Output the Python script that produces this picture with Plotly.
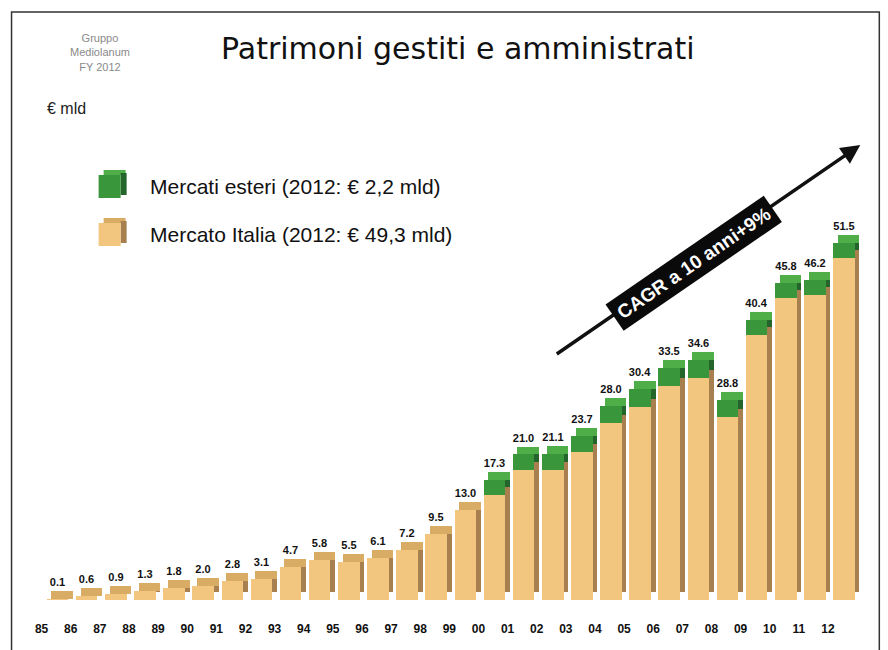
import plotly.graph_objects as go

anni = ["85", "86", "87", "88", "89", "90", "91", "92", "93", "94", "95", "96", "97", "98",
        "99", "00", "01", "02", "03", "04", "05", "06", "07", "08", "09", "10", "11", "12"]
totale = [0.1, 0.6, 0.9, 1.3, 1.8, 2.0, 2.8, 3.1, 4.7, 5.8, 5.5, 6.1, 7.2, 9.5,
          13.0, 17.3, 21.0, 21.1, 23.7, 28.0, 30.4, 33.5, 34.6, 28.8, 40.4, 45.8, 46.2, 51.5]
mercati_esteri = [0, 0, 0, 0, 0, 0, 0, 0, 0, 0, 0, 0, 0, 0,
                  0, 2.2, 2.3, 2.3, 2.3, 2.4, 2.5, 2.6, 2.6, 2.4, 2.2, 2.2, 2.2, 2.2]
mercato_italia = [0.1, 0.6, 0.9, 1.3, 1.8, 2.0, 2.8, 3.1, 4.7, 5.8, 5.5, 6.1, 7.2, 9.5,
                  13.0, 15.1, 18.7, 18.8, 21.4, 25.6, 27.9, 30.9, 32.0, 26.4, 38.2, 43.6, 44.0, 49.3]
etichette = ["0.1", "0.6", "0.9", "1.3", "1.8", "2.0", "2.8", "3.1", "4.7", "5.8", "5.5", "6.1", "7.2", "9.5",
             "13.0", "17.3", "21.0", "21.1", "23.7", "28.0", "30.4", "33.5", "34.6", "28.8", "40.4", "45.8", "46.2", "51.5"]

DEPTH = 1.15  # visual 3D depth (style)
TAN, TAN_SIDE, TAN_TOP = "#F2C67E", "#A8804F", "#D9AC66"
GREEN, GREEN_SIDE, GREEN_TOP = "#3A963A", "#23652A", "#4FAE48"
FRONT_OFF, FRONT_W = 0.18, 0.74
n = len(anni)

fig = go.Figure()

# side faces
fig.add_trace(go.Bar(x=anni, y=mercato_italia, base=[DEPTH] * n, offset=FRONT_OFF + FRONT_W, width=0.16,
                     marker=dict(color=TAN_SIDE, line=dict(width=0)), showlegend=False, hoverinfo="skip"))
fig.add_trace(go.Bar(x=anni, y=mercati_esteri, base=[v + DEPTH for v in mercato_italia],
                     offset=FRONT_OFF + FRONT_W, width=0.16,
                     marker=dict(color=GREEN_SIDE, line=dict(width=0)), showlegend=False, hoverinfo="skip"))
# top faces
top_cols = [GREEN_TOP if g > 0 else TAN_TOP for g in mercati_esteri]
fig.add_trace(go.Bar(x=anni, y=[DEPTH] * n, base=totale, offset=FRONT_OFF + 0.16, width=FRONT_W,
                     marker=dict(color=top_cols, line=dict(width=0)), showlegend=False, hoverinfo="skip"))
# front faces
fig.add_trace(go.Bar(x=anni, y=mercato_italia, base=[0] * n, offset=FRONT_OFF, width=FRONT_W,
                     marker=dict(color=TAN, line=dict(width=0)), name="Mercato Italia", showlegend=False))
fig.add_trace(go.Bar(x=anni, y=mercati_esteri, base=mercato_italia, offset=FRONT_OFF, width=FRONT_W,
                     marker=dict(color=GREEN, line=dict(width=0)), name="Mercati esteri", showlegend=False))
# value labels (invisible carrier bar above each column)
fig.add_trace(go.Bar(x=anni, y=[DEPTH] * n, base=totale, offset=FRONT_OFF, width=FRONT_W,
                     marker=dict(color="rgba(0,0,0,0)", line=dict(width=0)),
                     text=etichette, textposition="outside", constraintext="none", cliponaxis=False,
                     textfont=dict(family="Liberation Sans", size=11, color="#111111", weight="bold"),
                     showlegend=False, hoverinfo="skip"))

W, H = 888, 650
UNIT = 29.1
L = 42 - 0.5 * UNIT
R = W - (42 + 28.1 * UNIT)
T, B = 90, 50
pw, ph = W - L - R, H - T - B


def px(x):
    return (x - L) / pw


def py(y):
    return (H - B - y) / ph


fig.update_layout(
    width=W, height=H, margin=dict(l=L, r=R, t=T, b=B),
    paper_bgcolor="white", plot_bgcolor="white",
    barmode="overlay", bargap=0,
    xaxis=dict(type="category", range=[-0.5, 28.1], showgrid=False, zeroline=False, showline=False,
               ticks="outside", ticklen=18, tickcolor="rgba(0,0,0,0)",
               tickfont=dict(family="Liberation Sans", size=12, color="#111111", weight="bold")),
    yaxis=dict(range=[0, ph / 6.93], visible=False, showgrid=False, zeroline=False),
    font=dict(family="Liberation Sans"),
)

# frame
fig.add_shape(type="rect", xref="paper", yref="paper", x0=px(12), x1=px(879), y0=py(668), y1=py(12),
              line=dict(color="#333333", width=1.5), fillcolor="rgba(0,0,0,0)", layer="below")

annotations = [
    dict(text="Patrimoni gestiti e amministrati", x=px(458), y=py(48), xanchor="center", yanchor="middle",
         font=dict(family="DejaVu Sans", size=30, color="#111111")),
    dict(text="Gruppo<br>Mediolanum<br>FY 2012", x=px(100), y=py(52), xanchor="center", yanchor="middle",
         font=dict(family="Liberation Sans", size=11, color="#8a8a8a")),
    dict(text="€ mld", x=px(45), y=py(108), xanchor="left", yanchor="middle",
         font=dict(family="Liberation Sans", size=16, color="#222222")),
    dict(text="Mercati esteri (2012: € 2,2 mld)", x=px(148), y=py(186), xanchor="left", yanchor="middle",
         font=dict(family="Liberation Sans", size=21, color="#111111")),
    dict(text="Mercato Italia (2012: € 49,3 mld)", x=px(148), y=py(234), xanchor="left", yanchor="middle",
         font=dict(family="Liberation Sans", size=21, color="#111111")),
    # trend arrow
    dict(text="", x=px(860), y=py(145), ax=555 - 860, ay=355 - 145, axref="pixel", ayref="pixel",
         showarrow=True, arrowhead=2, arrowsize=1.1, arrowwidth=3.5, arrowcolor="#111111"),
    dict(text="<b>CAGR a 10 anni+9%</b>", x=px(693), y=py(263), xanchor="center", yanchor="middle",
         textangle=-34.5, bgcolor="#0a0a0a", borderpad=5,
         font=dict(family="Liberation Sans", size=19, color="white")),
]
for a in annotations:
    a.setdefault("xref", "paper")
    a.setdefault("yref", "paper")
    a.setdefault("showarrow", False)
    fig.add_annotation(**a)

# legend swatches
for (y0, y1, front, side, top) in [(170, 198, GREEN, GREEN_SIDE, GREEN_TOP), (218, 246, TAN, TAN_SIDE, TAN_TOP)]:
    fig.add_shape(type="rect", xref="paper", yref="paper", x0=px(104), x1=px(126), y0=py(y0), y1=py(y0 + 5),
                  fillcolor=top, line=dict(width=0))
    fig.add_shape(type="rect", xref="paper", yref="paper", x0=px(121), x1=px(127), y0=py(y1 - 3), y1=py(y0 + 3),
                  fillcolor=side, line=dict(width=0))
    fig.add_shape(type="rect", xref="paper", yref="paper", x0=px(99), x1=px(121), y0=py(y1), y1=py(y0 + 5),
                  fillcolor=front, line=dict(width=0))

fig.write_html("out.html", config={"displayModeBar": False},
               post_script="document.body.style.margin='0';")
